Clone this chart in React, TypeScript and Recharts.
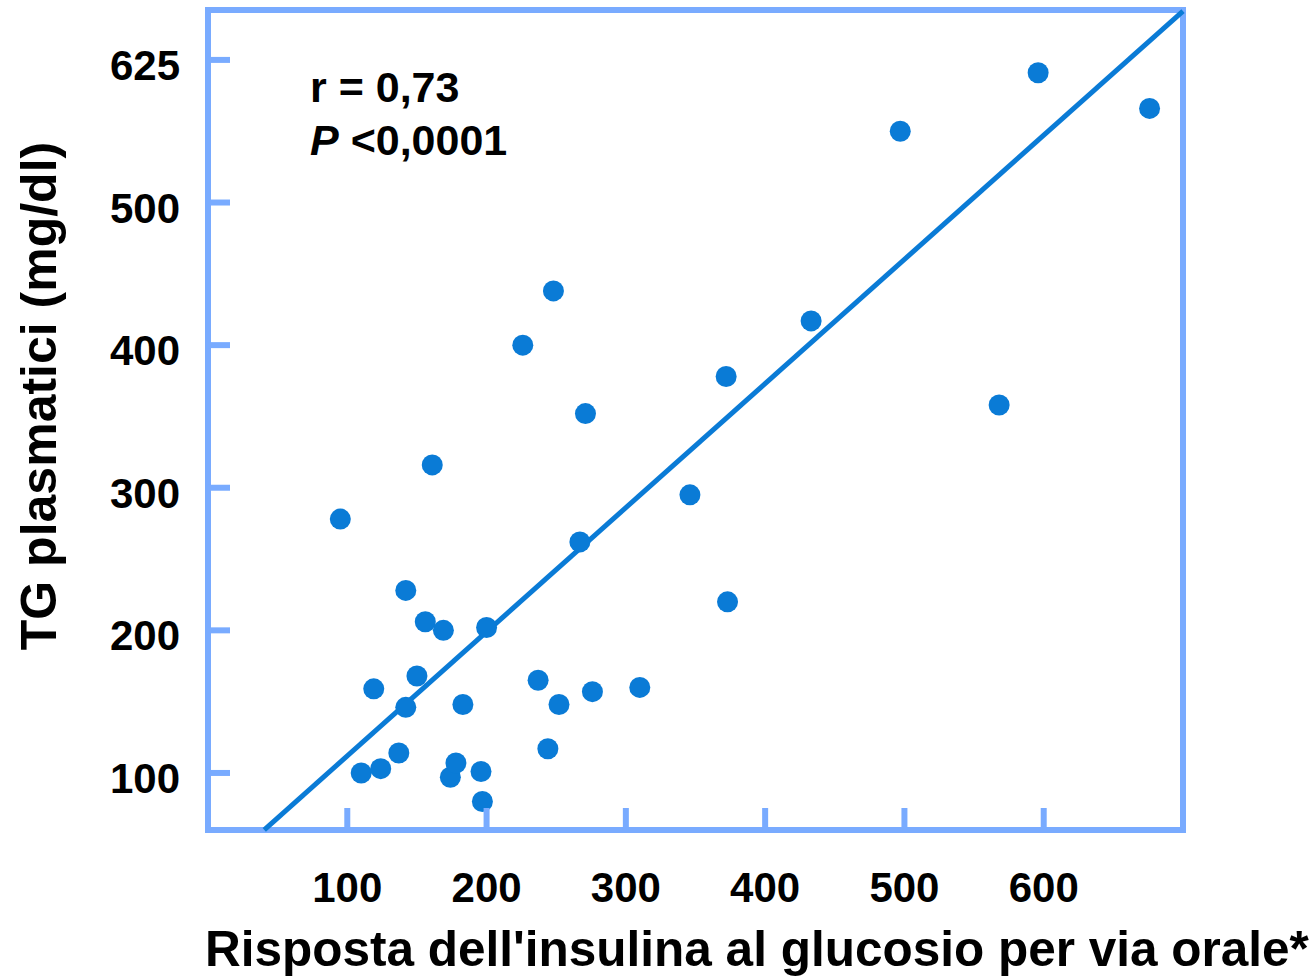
import React from 'react';
import { ScatterChart, Scatter, XAxis, YAxis, ReferenceArea, ReferenceLine } from 'recharts';

// Insulin response to oral glucose (x) vs plasma TG mg/dl (y)
const insulinResponse = [95, 110, 119, 124, 137, 142, 142, 150, 156, 161, 169, 174, 178, 183, 196, 197, 200, 226, 237, 244, 248, 252, 267, 271, 276, 310, 346, 372, 373, 433, 497, 568, 596, 676];
const plasmaTG = [278, 100, 159, 103, 114, 228, 146, 168, 206, 316, 200, 97, 107, 148, 101, 80, 202, 400, 165, 117, 438, 148, 262, 352, 157, 160, 295, 378, 220, 417, 550, 358, 591, 566];

const xTickValues = [100, 200, 300, 400, 500, 600];
const xTickLabels = ['100', '200', '300', '400', '500', '600'];
const yTickValues = [100, 200, 300, 400, 500, 600];
const yTickLabels = ['100', '200', '300', '400', '500', '625'];

const regressionX = [40.4, 700];
const regressionY = [60.1, 634.2];

const xDomain = [0, 700];
const yDomain = [60, 635];

const data = insulinResponse.map((x, i) => ({ x, y: plasmaTG[i] }));

const BORDER = '#79abff';
const BLUE = '#0a7bd6';
const FONT = '"Liberation Sans", Arial, Helvetica, sans-serif';

const XTick = (props: any) => {
  const { x, y, payload } = props;
  const idx = xTickValues.indexOf(payload.value);
  return (
    <g>
      <line x1={x} x2={x} y1={y} y2={y - 22} stroke={BORDER} strokeWidth={6} />
      <text x={x} y={y + 72} textAnchor="middle" fontFamily={FONT} fontWeight="bold" fontSize={42} fill="#000">
        {xTickLabels[idx]}
      </text>
    </g>
  );
};

const YTick = (props: any) => {
  const { x, y, payload } = props;
  const idx = yTickValues.indexOf(payload.value);
  return (
    <g>
      <line x1={x} x2={x + 22} y1={y} y2={y} stroke={BORDER} strokeWidth={6} />
      <text x={x - 28} y={y + 20} textAnchor="end" fontFamily={FONT} fontWeight="bold" fontSize={42} fill="#000">
        {yTickLabels[idx]}
      </text>
    </g>
  );
};

const Dot = (props: any) => {
  const { cx, cy } = props;
  return <circle cx={cx} cy={cy} r={10.5} fill={BLUE} />;
};

export default function App() {
  return (
    <div style={{ position: 'absolute', left: 0, top: 0, width: 1315, height: 977, background: '#fff' }}>
      <ScatterChart width={1315} height={977} margin={{ top: 10, right: 132, bottom: 87, left: 148 }}>
        <XAxis
          type="number"
          dataKey="x"
          domain={xDomain}
          ticks={xTickValues}
          interval={0}
          height={60}
          tickSize={0}
          tickMargin={0}
          tickLine={false}
          axisLine={false}
          tick={<XTick />}
          allowDataOverflow
        />
        <YAxis
          type="number"
          dataKey="y"
          domain={yDomain}
          ticks={yTickValues}
          interval={0}
          width={60}
          tickSize={0}
          tickMargin={0}
          tickLine={false}
          axisLine={false}
          tick={<YTick />}
          allowDataOverflow
        />
        <ReferenceArea
          x1={xDomain[0]}
          x2={xDomain[1]}
          y1={yDomain[0]}
          y2={yDomain[1]}
          fill="none"
          fillOpacity={0}
          stroke={BORDER}
          strokeWidth={6}
          ifOverflow="visible"
        />
        <ReferenceLine
          segment={[
            { x: regressionX[0], y: regressionY[0] },
            { x: regressionX[1], y: regressionY[1] },
          ]}
          stroke={BLUE}
          strokeWidth={5}
          ifOverflow="visible"
        />
        <Scatter data={data} shape={<Dot />} isAnimationActive={false} />
        <text x={310} y={102} fontFamily={FONT} fontWeight="bold" fontSize={43} fill="#000">r = 0,73</text>
        <text x={310} y={155} fontFamily={FONT} fontWeight="bold" fontSize={43} fill="#000">
          <tspan fontStyle="italic">P</tspan> &lt;0,0001
        </text>
        <text x={205} y={966} fontFamily={FONT} fontWeight="bold" fontSize={49.5} fill="#000">
          Risposta dell'insulina al glucosio per via orale*
        </text>
        <text
          x={56}
          y={396}
          transform="rotate(-90, 56, 396)"
          textAnchor="middle"
          fontFamily={FONT}
          fontWeight="bold"
          fontSize={50}
          fill="#000"
        >
          TG plasmatici (mg/dl)
        </text>
      </ScatterChart>
    </div>
  );
}
